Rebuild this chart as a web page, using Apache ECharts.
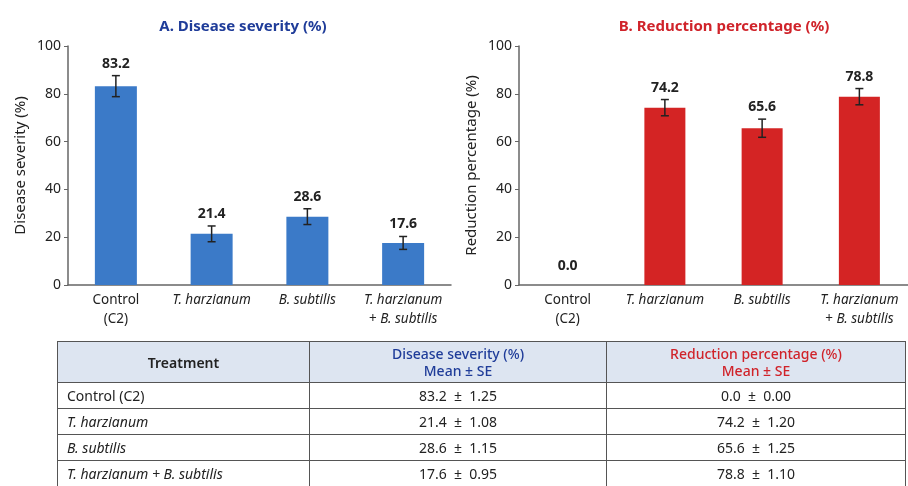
<!DOCTYPE html>
<html>
<head>
<meta charset="utf-8">
<script src="https://cdn.jsdelivr.net/npm/echarts@6/dist/echarts.min.js"></script>
<style>
  body { margin: 0; background: #fff; font-family: "Noto Sans", sans-serif; }
  #wrap { position: relative; width: 908px; height: 486px; overflow: hidden; }
  #chart { position: absolute; left: 0; top: 0; width: 908px; height: 486px; }
  #tbl { position: absolute; left: 57px; top: 341px; width: 849px; border-collapse: collapse; table-layout: fixed;
         font-size: 14px; color: #222; }
  #tbl td, #tbl th { border: 1px solid #555; height: 26px; padding: 0 9px; box-sizing: border-box; }
  #tbl th { background: #dde5f1; font-weight: 600; height: 41px; line-height: 17px; }
  #tbl th.h { font-weight: 500; }
  #tbl td.c { text-align: center; }
  .blue { color: #1f3c99; }
  .red { color: #d0232a; }
</style>
</head>
<body>
<div id="wrap">
  <div id="chart"></div>
  <table id="tbl"></table>
</div>
<script>
// treatments
var categories = ['Control\n(C2)', 'T. harzianum', 'B. subtilis', 'T. harzianum\n+ B. subtilis'];
var tableNames = ['Control (C2)', 'T. harzianum', 'B. subtilis', 'T. harzianum + B. subtilis'];
var italicRows = [false, true, true, true];

// A. disease severity
var severity = [83.2, 21.4, 28.6, 17.6];
var severityErr = [4.4, 3.3, 3.3, 2.7];   // whiskers as drawn
var severitySE = ['1.25', '1.08', '1.15', '0.95'];

// B. reduction percentage
var reduction = [0.0, 74.2, 65.6, 78.8];
var reductionErr = [0, 3.4, 3.8, 3.4];
var reductionSE = ['0.00', '1.20', '1.25', '1.10'];

var yTicks = [0, 20, 40, 60, 80, 100];

var FONT = '"Noto Sans", sans-serif';

function catLabel(v) {
    if (v.indexOf('Control') === 0) return v;
    return v.split('\n').map(function (s) {
        if (s.indexOf('+ ') === 0) return '+ {i|' + s.slice(2) + '}';
        return '{i|' + s + '}';
    }).join('\n');
}

function errSeries(idx, vals, errs) {
    return {
        type: 'custom',
        xAxisIndex: idx,
        yAxisIndex: idx,
        data: vals.map(function (v, i) { return [i, v, errs[i]]; }),
        z: 10,
        renderItem: function (params, api) {
            var i = api.value(0), v = api.value(1), e = api.value(2);
            var hi = api.coord([i, v + e]);
            var lo = api.coord([i, v - e]);
            var children = [];
            if (e > 0) {
                var st = { stroke: '#222', lineWidth: 1.5 };
                children.push(
                    { type: 'line', shape: { x1: hi[0], y1: hi[1], x2: lo[0], y2: lo[1] }, style: st },
                    { type: 'line', shape: { x1: hi[0] - 4, y1: hi[1], x2: hi[0] + 4, y2: hi[1] }, style: st },
                    { type: 'line', shape: { x1: lo[0] - 4, y1: lo[1], x2: lo[0] + 4, y2: lo[1] }, style: st }
                );
            }
            children.push({
                type: 'text',
                x: hi[0], y: hi[1] - (e > 0 ? 5 : 12),
                style: {
                    text: v.toFixed(1), fill: '#222', font: 'bold 14px ' + FONT,
                    textAlign: 'center', textVerticalAlign: 'bottom'
                }
            });
            return { type: 'group', children: children };
        }
    };
}

function xAxis(idx) {
    return {
        type: 'category', gridIndex: idx, data: categories,
        axisLine: { lineStyle: { color: '#666', width: 1.5 } },
        axisTick: { show: false },
        axisLabel: {
            color: '#222', fontSize: 13.5, fontFamily: FONT, lineHeight: 19, margin: 6,
            interval: 0, formatter: catLabel,
            rich: { i: { fontStyle: 'italic', fontSize: 13.5, fontFamily: FONT, color: '#222', lineHeight: 19 } }
        }
    };
}

function yAxis(idx, name) {
    return {
        type: 'value', gridIndex: idx, min: 0, max: 100, interval: 20,
        name: name, nameLocation: 'middle', nameGap: 40, nameRotate: 90,
        nameTextStyle: { color: '#222', fontSize: 15, fontFamily: FONT },
        axisLine: { show: true, lineStyle: { color: '#666', width: 1.5 } },
        axisTick: { show: true, length: 4, lineStyle: { color: '#666' } },
        splitLine: { show: false },
        axisLabel: {
            color: '#222', fontSize: 14, fontFamily: FONT, margin: 7,
            formatter: function (v) { return yTicks.indexOf(v) >= 0 ? String(v) : ''; }
        }
    };
}

var chart = echarts.init(document.getElementById('chart'));
var option = {
    animation: false,
    title: [
        { text: 'A. Disease severity (%)', left: 238, top: 14, textAlign: 'center',
          textStyle: { color: '#1f3c99', fontSize: 15, fontWeight: 'bold', fontFamily: FONT } },
        { text: 'B. Reduction percentage (%)', left: 719, top: 14, textAlign: 'center',
          textStyle: { color: '#d0232a', fontSize: 15, fontWeight: 'bold', fontFamily: FONT } }
    ],
    grid: [
        { left: 68, right: 457, top: 46, bottom: 201 },
        { left: 519, right: -11, top: 46, bottom: 201 }
    ],
    xAxis: [xAxis(0), xAxis(1)],
    yAxis: [yAxis(0, 'Disease severity (%)'), yAxis(1, 'Reduction percentage (%)')],
    series: [
        { type: 'bar', xAxisIndex: 0, yAxisIndex: 0, data: severity, barWidth: 42,
          itemStyle: { color: '#3b7ac8' } },
        { type: 'bar', xAxisIndex: 1, yAxisIndex: 1, data: reduction, barWidth: 41,
          itemStyle: { color: '#d42424' } },
        errSeries(0, severity, severityErr),
        errSeries(1, reduction, reductionErr)
    ]
};
chart.setOption(option);

// summary table
var html = '<tr><th style="width:252px">Treatment</th>' +
    '<th class="blue h" style="width:297px">Disease severity (%)<br>Mean ± SE</th>' +
    '<th class="red h">Reduction percentage (%)<br>Mean ± SE</th></tr>';
tableNames.forEach(function (n, i) {
    html += '<tr><td' + (italicRows[i] ? ' style="font-style:italic"' : '') + '>' + n + '</td>' +
        '<td class="c">' + severity[i].toFixed(1) + '&nbsp; ±&nbsp; ' + severitySE[i] + '</td>' +
        '<td class="c">' + reduction[i].toFixed(1) + '&nbsp; ±&nbsp; ' + reductionSE[i] + '</td></tr>';
});
document.getElementById('tbl').innerHTML = html;
</script>
</body>
</html>
